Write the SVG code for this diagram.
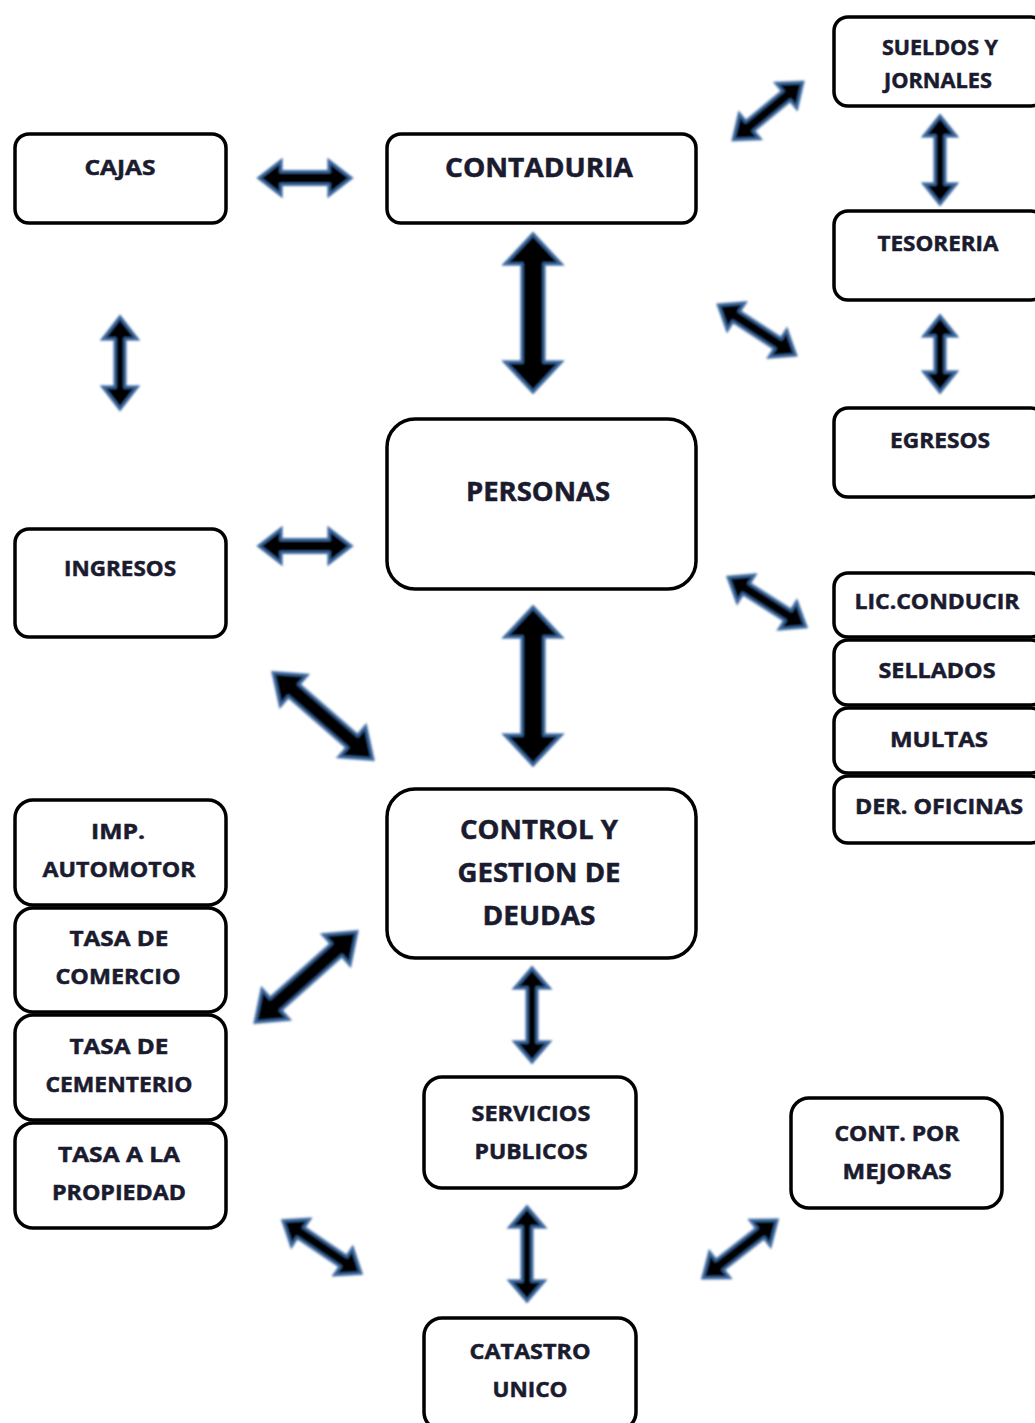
<svg xmlns="http://www.w3.org/2000/svg" width="1035" height="1423" viewBox="0 0 1035 1423">
<defs>
<filter id="soft" x="-20%" y="-20%" width="140%" height="140%"><feGaussianBlur stdDeviation="0.8"/></filter>
</defs>
<style>
.box{fill:#fff;stroke:#000;stroke-width:3.5}
.t{font-family:"Open Sans","Liberation Sans",sans-serif;font-weight:bold;fill:#1b1b2f;stroke:#1b1b2f;stroke-width:0.5;text-anchor:middle}
.s{font-size:21px}
.l{font-size:26px}
.arr{fill:#000;stroke:#3b679e;stroke-width:3.2;stroke-linejoin:miter;filter:url(#soft)}
</style>
<rect width="1035" height="1423" fill="#fff"/>

<g id="connectors">
<polygon class="arr" transform="translate(305,178)" points="-46,0 -24,-17 -24,-6.5 24,-6.5 24,-17 46,0 24,17 24,6.5 -24,6.5 -24,17"/>
<polygon class="arr" transform="translate(305,546)" points="-46,0 -24,-17 -24,-6.5 24,-6.5 24,-17 46,0 24,17 24,6.5 -24,6.5 -24,17"/>
<polygon class="arr" transform="translate(120,363) rotate(90)" points="-46,0 -24,-17 -24,-5 24,-5 24,-17 46,0 24,17 24,5 -24,5 -24,17"/>
<polygon class="arr" transform="translate(533,313) rotate(90)" points="-79,0 -49,-28 -49,-11 49,-11 49,-28 79,0 49,28 49,11 -49,11 -49,28"/>
<polygon class="arr" transform="translate(533,686) rotate(90)" points="-79,0 -49,-28 -49,-11 49,-11 49,-28 79,0 49,28 49,11 -49,11 -49,28"/>
<polygon class="arr" transform="translate(323,716) rotate(41)" points="-66,0 -39,-20 -39,-8 39,-8 39,-20 66,0 39,20 39,8 -39,8 -39,20"/>
<polygon class="arr" transform="translate(306,977) rotate(-41.7)" points="-68,0 -41,-20 -41,-8 41,-8 41,-20 68,0 41,20 41,8 -41,8 -41,20"/>
<polygon class="arr" transform="translate(768,111) rotate(-39.6)" points="-45,0 -24,-16 -24,-6 24,-6 24,-16 45,0 24,16 24,6 -24,6 -24,16"/>
<polygon class="arr" transform="translate(940,160) rotate(90)" points="-44,0 -24,-16 -24,-5 24,-5 24,-16 44,0 24,16 24,5 -24,5 -24,16"/>
<polygon class="arr" transform="translate(940,354) rotate(90)" points="-38,0 -18,-16 -18,-5 18,-5 18,-16 38,0 18,16 18,5 -18,5 -18,16"/>
<polygon class="arr" transform="translate(757,330) rotate(33)" points="-46,0 -25,-16 -25,-6 25,-6 25,-16 46,0 25,16 25,6 -25,6 -25,16"/>
<polygon class="arr" transform="translate(767,602) rotate(32.5)" points="-46,0 -25,-16 -25,-6 25,-6 25,-16 46,0 25,16 25,6 -25,6 -25,16"/>
<polygon class="arr" transform="translate(532,1015) rotate(90)" points="-47,0 -27,-17 -27,-5 27,-5 27,-17 47,0 27,17 27,5 -27,5 -27,17"/>
<polygon class="arr" transform="translate(527,1254) rotate(90)" points="-47,0 -27,-17 -27,-5 27,-5 27,-17 47,0 27,17 27,5 -27,5 -27,17"/>
<polygon class="arr" transform="translate(322,1247) rotate(34)" points="-47,0 -26,-16 -26,-6 26,-6 26,-16 47,0 26,16 26,6 -26,6 -26,16"/>
<polygon class="arr" transform="translate(740,1249) rotate(-38)" points="-47,0 -26,-16 -26,-6 26,-6 26,-16 47,0 26,16 26,6 -26,6 -26,16"/>
</g>

<g id="cajas"><rect class="box" x="15" y="134" width="211" height="89" rx="14"/><text class="t s" x="120" y="175" textLength="71" lengthAdjust="spacingAndGlyphs">CAJAS</text></g>
<g id="contaduria"><rect class="box" x="387" y="134" width="309" height="89" rx="14"/><text class="t l" x="539" y="177" textLength="188" lengthAdjust="spacingAndGlyphs">CONTADURIA</text></g>
<g id="sueldos"><rect class="box" x="834" y="17" width="211" height="89" rx="14"/><text class="t s" x="940" y="55" textLength="116" lengthAdjust="spacingAndGlyphs">SUELDOS Y</text><text class="t s" x="938" y="88" textLength="108" lengthAdjust="spacingAndGlyphs">JORNALES</text></g>
<g id="tesoreria"><rect class="box" x="834" y="211" width="211" height="89" rx="14"/><text class="t s" x="938" y="251" textLength="121" lengthAdjust="spacingAndGlyphs">TESORERIA</text></g>
<g id="egresos"><rect class="box" x="834" y="408" width="211" height="89" rx="14"/><text class="t s" x="940" y="448" textLength="100" lengthAdjust="spacingAndGlyphs">EGRESOS</text></g>
<g id="personas"><rect class="box" x="387" y="419" width="309" height="170" rx="28"/><text class="t l" x="538" y="501" textLength="144" lengthAdjust="spacingAndGlyphs">PERSONAS</text></g>
<g id="ingresos"><rect class="box" x="15" y="529" width="211" height="108" rx="14"/><text class="t s" x="120" y="576" textLength="112" lengthAdjust="spacingAndGlyphs">INGRESOS</text></g>
<g id="lic"><rect class="box" x="834" y="573" width="211" height="64" rx="14"/><text class="t s" x="937" y="609" textLength="165" lengthAdjust="spacingAndGlyphs">LIC.CONDUCIR</text></g>
<g id="sellados"><rect class="box" x="834" y="640" width="211" height="65" rx="14"/><text class="t s" x="937" y="678" textLength="117" lengthAdjust="spacingAndGlyphs">SELLADOS</text></g>
<g id="multas"><rect class="box" x="834" y="708" width="211" height="65" rx="14"/><text class="t s" x="939" y="747" textLength="98" lengthAdjust="spacingAndGlyphs">MULTAS</text></g>
<g id="der"><rect class="box" x="834" y="776" width="211" height="67" rx="14"/><text class="t s" x="939" y="814" textLength="168" lengthAdjust="spacingAndGlyphs">DER. OFICINAS</text></g>
<g id="control"><rect class="box" x="387" y="789" width="309" height="169" rx="28"/><text class="t l" x="539" y="839" textLength="158" lengthAdjust="spacingAndGlyphs">CONTROL Y</text><text class="t l" x="539" y="882" textLength="163" lengthAdjust="spacingAndGlyphs">GESTION DE</text><text class="t l" x="539" y="925" textLength="113" lengthAdjust="spacingAndGlyphs">DEUDAS</text></g>
<g id="imp"><rect class="box" x="15" y="800" width="211" height="105" rx="18"/><text class="t s" x="118" y="839" textLength="54" lengthAdjust="spacingAndGlyphs">IMP.</text><text class="t s" x="119" y="877" textLength="153" lengthAdjust="spacingAndGlyphs">AUTOMOTOR</text></g>
<g id="comercio"><rect class="box" x="15" y="908" width="211" height="104" rx="18"/><text class="t s" x="119" y="946" textLength="99" lengthAdjust="spacingAndGlyphs">TASA DE</text><text class="t s" x="118" y="984" textLength="125" lengthAdjust="spacingAndGlyphs">COMERCIO</text></g>
<g id="cementerio"><rect class="box" x="15" y="1015" width="211" height="105" rx="18"/><text class="t s" x="119" y="1054" textLength="99" lengthAdjust="spacingAndGlyphs">TASA DE</text><text class="t s" x="119" y="1092" textLength="147" lengthAdjust="spacingAndGlyphs">CEMENTERIO</text></g>
<g id="propiedad"><rect class="box" x="15" y="1123" width="211" height="105" rx="18"/><text class="t s" x="119" y="1162" textLength="122" lengthAdjust="spacingAndGlyphs">TASA A LA</text><text class="t s" x="119" y="1200" textLength="134" lengthAdjust="spacingAndGlyphs">PROPIEDAD</text></g>
<g id="servicios"><rect class="box" x="424" y="1077" width="212" height="111" rx="18"/><text class="t s" x="531" y="1121" textLength="119" lengthAdjust="spacingAndGlyphs">SERVICIOS</text><text class="t s" x="531" y="1159" textLength="113" lengthAdjust="spacingAndGlyphs">PUBLICOS</text></g>
<g id="mejoras"><rect class="box" x="791" y="1098" width="211" height="110" rx="18"/><text class="t s" x="897" y="1141" textLength="125" lengthAdjust="spacingAndGlyphs">CONT. POR</text><text class="t s" x="897" y="1179" textLength="109" lengthAdjust="spacingAndGlyphs">MEJORAS</text></g>
<g id="catastro"><rect class="box" x="424" y="1318" width="212" height="112" rx="18"/><text class="t s" x="530" y="1359" textLength="121" lengthAdjust="spacingAndGlyphs">CATASTRO</text><text class="t s" x="530" y="1397" textLength="75" lengthAdjust="spacingAndGlyphs">UNICO</text></g>
</svg>
